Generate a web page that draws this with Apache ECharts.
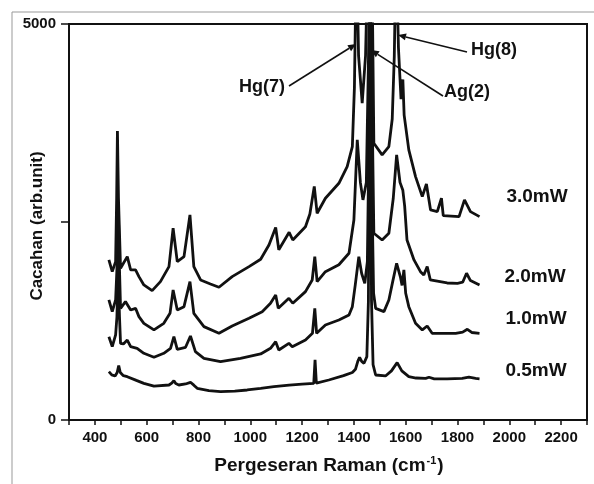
<!DOCTYPE html>
<html><head><meta charset="utf-8">
<script src="https://cdn.jsdelivr.net/npm/echarts@6/dist/echarts.min.js"></script>
<style>html,body{margin:0;padding:0;background:#fff}#c{width:594px;height:484px}</style>
</head><body><div id="c"></div>
<script>
// Raman shift (cm-1) / counts pairs
const p05 = [[454,610],[465,570],[478,555],[486,600],[492,686],[498,600],[510,560],[525,547],[560,500],[589,463],[628,429],[686,442],[698,470],[705,497],[712,460],[724,442],[750,455],[769,476],[782,440],[795,400],[840,372],[885,358],[940,365],[988,379],[1040,400],[1091,421],[1150,440],[1200,452],[1245,462],[1250,760],[1255,465],[1303,505],[1360,560],[1394,600],[1406,640],[1415,740],[1422,792],[1430,740],[1439,716],[1450,800],[1456,1500],[1462,6000],[1468,1500],[1474,700],[1484,568],[1522,556],[1545,620],[1567,724],[1585,620],[1612,547],[1640,530],[1677,526],[1690,540],[1710,520],[1760,520],[1818,526],[1844,540],[1870,525],[1885,520]];
const p10 = [[454,1052],[467,926],[480,1074],[485,1300],[490,1900],[495,1300],[499,968],[510,960],[525,1010],[538,926],[563,905],[589,842],[628,792],[666,842],[692,905],[705,1052],[718,893],[750,918],[769,1061],[788,863],[821,779],[885,737],[962,779],[1040,834],[1078,905],[1098,989],[1110,884],[1149,968],[1162,926],[1213,1010],[1240,1095],[1249,1410],[1256,1095],[1290,1200],[1342,1263],[1381,1326],[1394,1431],[1405,1700],[1419,2063],[1430,1850],[1442,1726],[1452,2000],[1458,3500],[1463,6000],[1469,3000],[1476,1600],[1484,1410],[1516,1368],[1535,1516],[1550,1750],[1565,1979],[1580,1800],[1586,1700],[1593,1895],[1600,1600],[1612,1431],[1638,1221],[1664,1137],[1683,1187],[1702,1095],[1793,1095],[1820,1110],[1838,1145],[1855,1105],[1885,1095]];
const p20 = [[454,1516],[467,1368],[480,1516],[485,1900],[490,2750],[495,1900],[499,1410],[518,1495],[538,1389],[557,1410],[570,1305],[589,1221],[628,1137],[666,1221],[690,1347],[702,1642],[718,1389],[744,1431],[767,1747],[782,1347],[821,1179],[879,1095],[930,1187],[995,1284],[1046,1368],[1078,1474],[1098,1579],[1108,1410],[1149,1537],[1164,1474],[1213,1621],[1239,1768],[1249,2063],[1258,1747],[1290,1873],[1342,1960],[1381,2105],[1400,2526],[1413,3537],[1425,3000],[1435,2779],[1448,3000],[1456,4500],[1462,6000],[1468,4500],[1477,2358],[1509,2273],[1535,2358],[1552,2800],[1565,3347],[1578,3000],[1589,2900],[1596,2700],[1605,2273],[1632,2021],[1657,1873],[1670,1830],[1683,1937],[1695,1770],[1702,1747],[1760,1730],[1800,1726],[1820,1740],[1835,1853],[1850,1760],[1885,1705]];
const p30 = [[454,2021],[467,1873],[480,2000],[484,2800],[487,3650],[491,2800],[499,1916],[525,2063],[538,1895],[557,1895],[570,1810],[589,1705],[621,1633],[653,1747],[686,1937],[702,2421],[718,2000],[744,2063],[767,2589],[782,1937],[808,1768],[846,1718],[879,1676],[930,1810],[995,1937],[1040,2030],[1072,2210],[1098,2430],[1110,2150],[1150,2370],[1164,2273],[1213,2441],[1230,2600],[1247,2950],[1258,2610],[1290,2800],[1342,2989],[1374,3200],[1394,3452],[1402,4200],[1410,6000],[1418,4600],[1432,4000],[1445,4600],[1455,6000],[1462,6000],[1469,6000],[1477,3495],[1509,3347],[1535,3452],[1548,3800],[1556,4600],[1563,6000],[1572,4700],[1582,4050],[1589,4300],[1594,3850],[1612,3410],[1638,3073],[1664,2821],[1680,2980],[1696,2652],[1722,2631],[1738,2800],[1745,2580],[1806,2568],[1827,2779],[1850,2631],[1885,2568]];
const seriesNames = ['0.5mW','1.0mW','2.0mW','3.0mW'];
const seriesData = [p05, p10, p20, p30];
const xMin = 300, xMax = 2300, xStep = 100, xLabelStep = 200;
const yMin = 0, yMax = 5000, yStep = 2500, yLabels = [0, 5000];
const peakNames = ['Hg(7)', 'Ag(2)', 'Hg(8)'];
const xTitle = 'Pergeseran Raman (cm';
const yTitle = 'Cacahan (arb.unit)';

const FONT = '"Liberation Sans", Arial, sans-serif';
const chart = echarts.init(document.getElementById('c'), null, {renderer: 'canvas'});

function arrow(tail, tip, len, half) {
  const dx = tip[0] - tail[0], dy = tip[1] - tail[1];
  const d = Math.hypot(dx, dy), ux = dx / d, uy = dy / d;
  const bx = tip[0] - ux * len, by = tip[1] - uy * len;
  return [
    {type: 'line', shape: {x1: tail[0], y1: tail[1], x2: bx, y2: by}, style: {stroke: '#111', lineWidth: 1.6}, z: 10},
    {type: 'polygon', shape: {points: [tip, [bx - uy * half, by + ux * half], [bx + uy * half, by - ux * half]]}, style: {fill: '#111'}, z: 10}
  ];
}
function txt(t, x, y, size, extra) {
  return Object.assign({type: 'text', x: x, y: y, z: 10,
    style: {text: t, fill: '#111', font: 'bold ' + size + 'px ' + FONT, align: 'center', verticalAlign: 'middle'}}, extra || {});
}

const labelPos = [[536, 371], [536, 319], [535, 277], [537, 197]];
const graphics = [
  {type: 'line', shape: {x1: 12, y1: 12, x2: 594, y2: 12}, style: {stroke: '#999', lineWidth: 1}},
  {type: 'line', shape: {x1: 12, y1: 12, x2: 12, y2: 484}, style: {stroke: '#999', lineWidth: 1}},
  txt(peakNames[0], 262, 87, 18),
  txt(peakNames[1], 467, 92, 18),
  txt(peakNames[2], 494, 50, 18),
  ...arrow([289, 86], [356, 44], 8, 3.5),
  ...arrow([443, 96], [371, 50], 8, 3.5),
  ...arrow([467, 52], [398, 35], 8, 3.5),
  {type: 'text', x: 37, y: 226, rotation: Math.PI / 2, z: 10,
    style: {text: yTitle, fill: '#111', font: 'bold 17px ' + FONT, align: 'center', verticalAlign: 'middle'}},
  {type: 'text', x: 329, y: 466, z: 10,
    style: {text: '{a|' + xTitle + '}{s|-1}{a|)}', align: 'center', verticalAlign: 'middle',
      rich: {a: {fill: '#111', font: 'bold 19px ' + FONT, fontSize: 19, fontWeight: 'bold', fontFamily: FONT},
             s: {fill: '#111', fontSize: 11, fontWeight: 'bold', fontFamily: FONT, verticalAlign: 'top', padding: [0, 1, 10, 1]}}}}
];
seriesNames.forEach((n, i) => graphics.push(txt(n, labelPos[i][0], labelPos[i][1], 19)));

chart.setOption({
  animation: false,
  backgroundColor: '#fff',
  grid: {left: 69, top: 24, right: 7, bottom: 64, show: true, borderColor: '#111', borderWidth: 2},
  xAxis: {
    type: 'value', min: xMin, max: xMax, interval: xStep,
    axisLine: {show: true, lineStyle: {color: '#111', width: 2}},
    axisTick: {show: true, length: 5, lineStyle: {color: '#111', width: 1.5}},
    splitLine: {show: false},
    axisLabel: {color: '#111', fontFamily: FONT, fontSize: 15, fontWeight: 'bold', margin: 10,
      formatter: v => (v % xLabelStep === 0 && v > xMin && v < xMax) ? String(v) : ''}
  },
  yAxis: {
    type: 'value', min: yMin, max: yMax, interval: yStep,
    axisLine: {show: true, lineStyle: {color: '#111', width: 2}},
    axisTick: {show: true, length: 8, lineStyle: {color: '#111', width: 1.5}},
    splitLine: {show: false},
    axisLabel: {color: '#111', fontFamily: FONT, fontSize: 15, fontWeight: 'bold', margin: 13,
      formatter: v => yLabels.indexOf(v) >= 0 ? String(v) : ''}
  },
  series: seriesData.map((d, i) => ({
    name: seriesNames[i], type: 'line', data: d, showSymbol: false, clip: true,
    lineStyle: {color: '#111', width: 2.8}, z: 3
  })),
  graphic: graphics
});
</script></body></html>
